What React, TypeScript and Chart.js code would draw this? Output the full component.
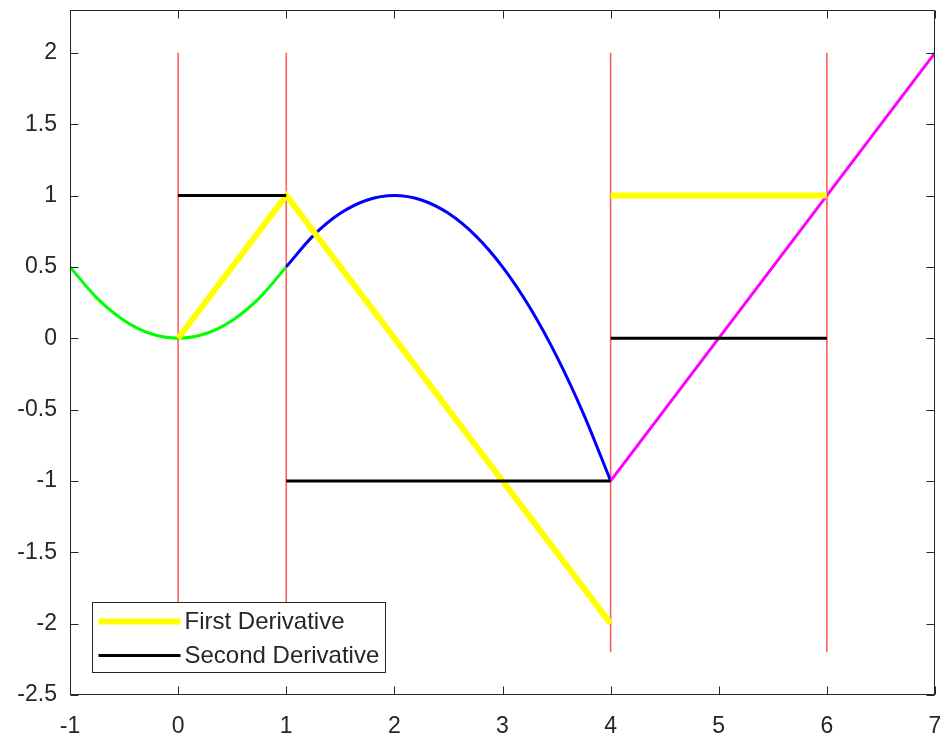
import React, { useEffect, useRef } from "react";
import { Chart, registerables } from "chart.js";

Chart.register(...registerables);

// ---- data ----
const greenX = [-1, -0.75, -0.5, -0.25, 0, 0.25, 0.5, 0.75, 1];
const greenY = [0.5, 0.28125, 0.125, 0.03125, 0, 0.03125, 0.125, 0.28125, 0.5];

const blueX = [1, 1.25, 1.5, 1.75, 2, 2.25, 2.5, 2.75, 3, 3.25, 3.5, 3.75, 4];
const blueY = [0.5, 0.71875, 0.875, 0.96875, 1, 0.96875, 0.875, 0.71875, 0.5, 0.21875, -0.125, -0.53125, -1];

const magentaX = [4, 7];
const magentaY = [-1, 2];

const firstDerivX = [0, 1, 4, 4, 4, 6];
const firstDerivY = [0, 1, -2, null, 1, 1];

const secondDerivX = [0, 1, 1, 1, 4, 4, 4, 6];
const secondDerivY = [1, 1, null, -1, -1, null, 0, 0];

const redX = [0, 0, 0, 1, 1, 1, 4, 4, 4, 6, 6];
const redY = [-2.2, 2, null, -2.2, 2, null, -2.2, 2, null, -2.2, 2];

const xTickStep = 1;
const yTickStep = 0.5;
const xMin = -1, xMax = 7;
const yMin = -2.5, yMax = 2.3;

const legendLabels = ["First Derivative", "Second Derivative"];

const pts = (xs: number[], ys: (number | null)[]) => xs.map((x, i) => ({ x, y: ys[i] }));

const AXIS_COLOR = "#262626";
const FONT = "'Liberation Sans', Arial, Helvetica, sans-serif";

const framePlugin = {
  id: "frame",
  afterDraw(chart: any) {
    const { ctx, chartArea: a, scales } = chart;
    ctx.save();
    ctx.strokeStyle = AXIS_COLOR;
    ctx.lineWidth = 1;
    const L = Math.round(a.left) + 0.5;
    const R = Math.round(a.right) - 0.5;
    const T = Math.round(a.top) + 0.5;
    const B = Math.round(a.bottom) - 0.5;
    const tl = 8;
    ctx.beginPath();
    scales.x.ticks.forEach((t: any) => {
      const px = Math.round(scales.x.getPixelForValue(t.value)) + 0.5;
      ctx.moveTo(px, B);
      ctx.lineTo(px, B - tl);
      ctx.moveTo(px, T);
      ctx.lineTo(px, T + tl);
    });
    scales.y.ticks.forEach((t: any) => {
      const py = Math.round(scales.y.getPixelForValue(t.value)) + 0.5;
      ctx.moveTo(L, py);
      ctx.lineTo(L + tl, py);
      ctx.moveTo(R, py);
      ctx.lineTo(R - tl, py);
    });
    ctx.stroke();
    ctx.strokeRect(L, T, R - L, B - T);

    // legend
    const items = legendLabels
      .map((lab) => chart.data.datasets.find((d: any) => d.label === lab))
      .filter(Boolean);
    ctx.font = `24px ${FONT}`;
    const boxL = Math.round(a.left) + 22.5;
    const boxB = Math.round(a.bottom) - 22.5;
    const boxH = 70;
    const boxT = boxB - boxH;
    const textX = boxL + 92;
    const maxW = Math.max(...items.map((d: any) => ctx.measureText(d.label).width));
    const boxW = Math.round(textX + maxW + 6 - boxL);
    ctx.fillStyle = "#ffffff";
    ctx.fillRect(boxL, boxT, boxW, boxH);
    ctx.strokeStyle = AXIS_COLOR;
    ctx.lineWidth = 1;
    ctx.strokeRect(boxL, boxT, boxW, boxH);
    items.forEach((d: any, i: number) => {
      const y = boxT + 19 + i * 34;
      ctx.beginPath();
      ctx.strokeStyle = d.borderColor;
      ctx.lineWidth = d.borderWidth;
      ctx.moveTo(boxL + 6, y);
      ctx.lineTo(boxL + 88, y);
      ctx.stroke();
      ctx.fillStyle = AXIS_COLOR;
      ctx.textBaseline = "middle";
      ctx.textAlign = "left";
      ctx.fillText(d.label, textX, y + 1);
    });
    ctx.restore();
  },
};

const fmt = (v: any) => String(Math.round(Number(v) * 100) / 100);

export default function App() {
  const ref = useRef<HTMLCanvasElement | null>(null);
  useEffect(() => {
    if (!ref.current) return;
    const common = { showLine: true, pointRadius: 0, pointHoverRadius: 0, spanGaps: false, fill: false };
    const chart = new Chart(ref.current, {
      type: "scatter",
      data: {
        datasets: [
          { ...common, label: "Second Derivative", data: pts(secondDerivX, secondDerivY), borderColor: "#000000", borderWidth: 3, order: 0 },
          { ...common, label: "First Derivative", data: pts(firstDerivX, firstDerivY), borderColor: "#ffff00", borderWidth: 6, order: 1 },
          { ...common, label: "magenta", data: pts(magentaX, magentaY), borderColor: "#ff00ff", borderWidth: 3, order: 2 },
          { ...common, label: "blue", data: pts(blueX, blueY), borderColor: "#0000ff", borderWidth: 3, cubicInterpolationMode: "monotone", order: 3 },
          { ...common, label: "green", data: pts(greenX, greenY), borderColor: "#00ff00", borderWidth: 3, cubicInterpolationMode: "monotone", order: 4 },
          { ...common, label: "red", data: pts(redX, redY), borderColor: "rgba(255,40,40,0.75)", borderWidth: 1.6, order: 5 },
        ] as any,
      },
      options: {
        responsive: false,
        animation: false,
        devicePixelRatio: 1,
        layout: { padding: { left: 0, top: 10, right: 5, bottom: 0 } },
        plugins: { legend: { display: false }, tooltip: { enabled: false } },
        events: [],
        scales: {
          x: {
            type: "linear",
            position: "bottom",
            min: xMin,
            max: xMax,
            grid: { display: false, drawTicks: false },
            border: { display: false },
            ticks: {
              stepSize: xTickStep,
              autoSkip: false,
              maxRotation: 0,
              padding: 18,
              color: AXIS_COLOR,
              font: { family: FONT, size: 23 },
              callback: (v: any) => fmt(v),
            },
            afterFit: (s: any) => {
              s.height = 43;
              s.paddingLeft = 0;
              s.paddingRight = 0;
            },
          },
          y: {
            type: "linear",
            position: "left",
            min: yMin,
            max: yMax,
            grid: { display: false, drawTicks: false },
            border: { display: false },
            ticks: {
              stepSize: yTickStep,
              autoSkip: false,
              padding: 13,
              color: AXIS_COLOR,
              font: { family: FONT, size: 23 },
              callback: (v: any) => fmt(v),
            },
            afterBuildTicks: (s: any) => {
              s.ticks = s.ticks.filter((t: any) => t.value <= 2.0001);
            },
            afterFit: (s: any) => {
              s.width = 70;
              s.paddingTop = 0;
              s.paddingBottom = 0;
            },
          },
        },
      } as any,
      plugins: [framePlugin],
    });
    return () => chart.destroy();
  }, []);
  return (
    <div style={{ position: "fixed", left: 0, top: 0, width: 940, height: 738, background: "#fff" }}>
      <canvas ref={ref} width={940} height={738} style={{ display: "block" }} />
    </div>
  );
}
